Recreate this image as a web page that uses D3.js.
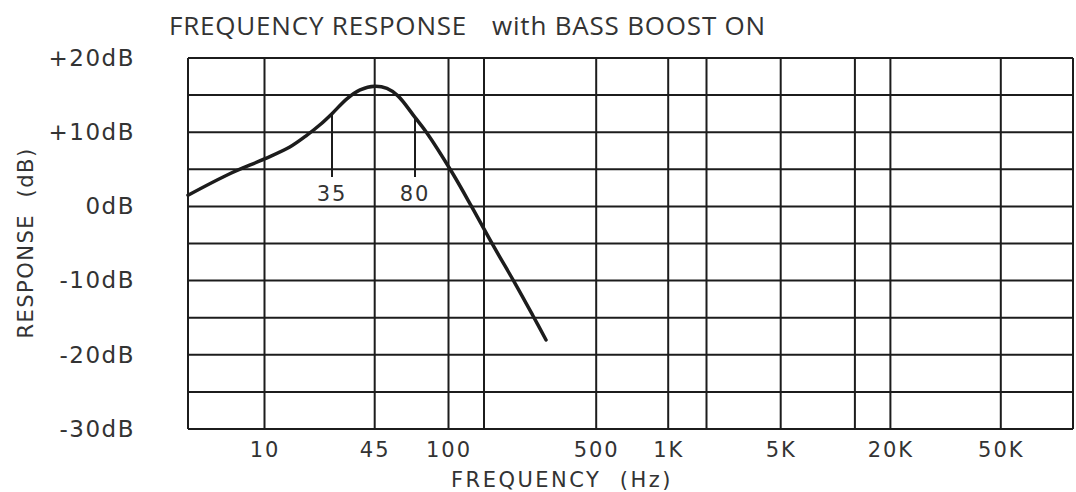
<!DOCTYPE html>
<html>
<head>
<meta charset="utf-8">
<script src="https://cdn.jsdelivr.net/npm/d3@7"></script>
<style>
    body { margin: 0; background: #fff; }
    svg { display: block; }
</style>
</head>
<body>
<div class="canvas"></div>
<script>
// response curve
const curveHz = [5, 7.3, 10, 16, 22, 28, 35, 38.2, 41.3, 45, 53.6, 62.7, 80, 86.6, 107, 158, 215, 258, 298, 332]
const curveDb = [1.5, 4.4, 6.4, 8.0, 9.6, 11.0, 12.5, 14.5, 15.7, 16.2, 15.9, 14.9, 12.0, 9.9, 4.6, -0.1, -5.2, -10.4, -14.7, -18.0]

// frequency grid and labels
const gridHz = [5, 10, 45, 100, 200, 500, 1000, 2000, 5000, 10000, 20000, 50000, 100000]
const tickHz = [10, 45, 100, 500, 1000, 5000, 20000, 50000]
const tickLabels = ['10', '45', '100', '500', '1K', '5K', '20K', '50K']

// level grid and labels
const dbGrid = [-30, -25, -20, -15, -10, -5, 0, 5, 10, 15, 20]
const dbTicks = [20, 10, 0, -10, -20, -30]
const dbTickLabels = ['+20dB', '+10dB', '0dB', '-10dB', '-20dB', '-30dB']

// corner frequencies marked on the curve
const markerHz = [35, 80]
const markerLabels = ['35', '80']

const dims = {
    width: 1076,
    height: 492
}

const plot = {
    left: 188,
    right: 1073,
    top: 58,
    bottom: 429
}

const ink = '#1c1c1c'
const textColor = '#333'
const labelFont = '"DejaVu Sans", sans-serif'

// the printed frequency axis is only roughly logarithmic, so the scale is
// pinned to where each reference frequency sits on the paper
const xStopHz = [5, 10, 35, 45, 80, 100, 200, 500, 1000, 2000, 5000, 10000, 20000, 50000, 100000]
const xStopOffset = [0, 76.5, 144, 186.7, 227, 260.5, 296, 408.2, 480.2, 518.5, 592.7, 666.9, 702.4, 812.8, 885]

const x = d3.scaleLog()
    .domain(xStopHz)
    .range(xStopOffset.map(o => plot.left + o))

const y = d3.scaleLinear()
    .domain([-30, 20])
    .range([plot.bottom, plot.top])

const svg = d3.select('.canvas')
    .append('svg')
    .attr('width', dims.width)
    .attr('height', dims.height)

svg.append('rect')
    .attr('width', dims.width)
    .attr('height', dims.height)
    .attr('fill', '#fff')

// title
const title = svg.append('g')
    .attr('font-family', '"Open Sans", sans-serif')
    .attr('font-size', 26)
    .attr('letter-spacing', 0.8)
    .attr('fill', textColor)

title.append('text')
    .attr('x', 169)
    .attr('y', 35)
    .text('FREQUENCY RESPONSE')

title.append('text')
    .attr('x', 492)
    .attr('y', 35)
    .text('with BASS BOOST ON')

// grid
const grid = svg.append('g')
    .attr('stroke', ink)
    .attr('stroke-width', 2)

grid.selectAll('line.h')
    .data(dbGrid)
    .enter()
    .append('line')
    .attr('class', 'h')
    .attr('x1', plot.left)
    .attr('x2', plot.right)
    .attr('y1', d => y(d))
    .attr('y2', d => y(d))

grid.selectAll('line.v')
    .data(gridHz)
    .enter()
    .append('line')
    .attr('class', 'v')
    .attr('x1', d => x(d))
    .attr('x2', d => x(d))
    .attr('y1', plot.top)
    .attr('y2', plot.bottom)

// axes (labels only, the grid does the lines)
const xAxis = d3.axisBottom(x)
    .tickValues(tickHz)
    .tickFormat((d, i) => tickLabels[i])
    .tickSize(0)
    .tickPadding(13)

const yAxis = d3.axisLeft(y)
    .tickValues(dbTicks)
    .tickFormat(d => dbTickLabels[dbTicks.indexOf(d)])
    .tickSize(0)
    .tickPadding(53)

const xAxisGroup = svg.append('g')
    .attr('transform', `translate(0, ${plot.bottom})`)
    .call(xAxis)

const yAxisGroup = svg.append('g')
    .attr('transform', `translate(${plot.left}, 0)`)
    .call(yAxis)

;[xAxisGroup, yAxisGroup].forEach(g => {
    g.select('.domain').remove()
    g.attr('font-family', labelFont)
    g.selectAll('text').attr('fill', textColor)
})
xAxisGroup.attr('font-size', 21)
xAxisGroup.selectAll('text').attr('letter-spacing', 2)
yAxisGroup.attr('font-size', 23)
yAxisGroup.selectAll('text').attr('letter-spacing', 1.5)

// axis titles
svg.append('text')
    .attr('x', 562)
    .attr('y', 487)
    .attr('text-anchor', 'middle')
    .attr('font-family', labelFont)
    .attr('font-size', 21)
    .attr('letter-spacing', 2.5)
    .attr('fill', textColor)
    .attr('xml:space', 'preserve')
    .text('FREQUENCY  (Hz)')

svg.append('text')
    .attr('transform', 'translate(33, 243) rotate(-90)')
    .attr('text-anchor', 'middle')
    .attr('font-family', labelFont)
    .attr('font-size', 21)
    .attr('letter-spacing', 1.5)
    .attr('fill', textColor)
    .attr('xml:space', 'preserve')
    .text('RESPONSE  (dB)')

// response curve
const curveData = curveHz.map((hz, i) => ({ hz, db: curveDb[i] }))

const line = d3.line()
    .x(d => x(d.hz))
    .y(d => y(d.db))
    .curve(d3.curveCatmullRom.alpha(0.5))

svg.append('path')
    .datum(curveData)
    .attr('d', line)
    .attr('fill', 'none')
    .attr('stroke', ink)
    .attr('stroke-width', 3.5)
    .attr('stroke-linecap', 'round')
    .attr('stroke-linejoin', 'round')

// marker ticks hanging from the curve
const markerBase = 177
const markers = svg.append('g')
    .selectAll('g')
    .data(markerHz.map((hz, i) => ({ hz, label: markerLabels[i], db: curveDb[curveHz.indexOf(hz)] })))
    .enter()
    .append('g')

markers.append('line')
    .attr('x1', d => x(d.hz))
    .attr('x2', d => x(d.hz))
    .attr('y1', d => y(d.db))
    .attr('y2', markerBase)
    .attr('stroke', ink)
    .attr('stroke-width', 2)

markers.append('text')
    .attr('x', d => x(d.hz))
    .attr('y', 201)
    .attr('text-anchor', 'middle')
    .attr('font-family', labelFont)
    .attr('font-size', 21)
    .attr('letter-spacing', 2)
    .attr('fill', textColor)
    .text(d => d.label)
</script>
</body>
</html>
